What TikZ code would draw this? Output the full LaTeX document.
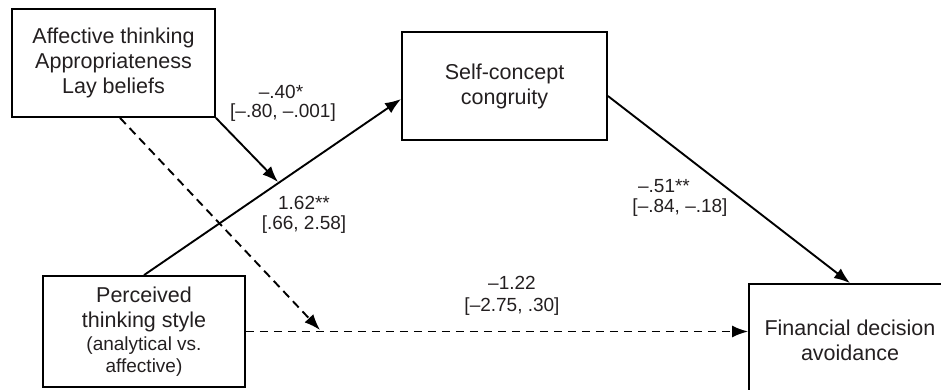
\documentclass[tikz,border=0pt]{standalone}
\usepackage{fontspec}
\setmainfont{Liberation Sans}
\usetikzlibrary{arrows.meta}
\definecolor{ink}{HTML}{231F20}
\begin{document}
\begin{tikzpicture}[x=1pt,y=-1pt,
  box/.style={draw=black, line width=1.8pt, align=center, text=ink,
    font=\fontsize{21.5}{25}\selectfont, inner sep=0pt, anchor=center},
  lbl/.style={text=ink, font=\fontsize{19}{22}\selectfont, inner sep=0pt},
  arr/.style={line width=1.9pt, -{Latex[length=16pt,width=12pt]}},
  dsh/.style={arr, dash pattern=on 8.5pt off 5.5pt}]
\useasboundingbox (0,0) rectangle (941,390);
\clip (0,0) rectangle (941,390);
\node[box, minimum width=203pt, minimum height=108pt] (A) at (113.5,63)
  {Affective thinking\\Appropriateness\\Lay beliefs};
\node[box, minimum width=205pt, minimum height=108pt] (B) at (504.5,86)
  {Self-concept\\congruity};
\node[box, minimum width=202pt, minimum height=111pt] (C) at (144,331.5)
  {Perceived\\thinking style\\[-2pt]{\fontsize{19}{22}\selectfont(analytical vs.}\\[-3pt]{\fontsize{19}{22}\selectfont affective)}};
\node[box, minimum width=202pt, minimum height=112pt] (D) at (850,340)
  {Financial decision\\avoidance};
\coordinate (M) at (278,182);
\coordinate (Q) at (320,330);
\draw[arr] (C.north) -- ([yshift=-13pt]B.west);
\draw[arr] (A.south east) -- (M);
\draw[dsh] ([xshift=6.5pt]A.south) -- (Q);
\draw[dsh] (C.east) -- (C.east -| D.west);
\draw[arr] ([yshift=-10pt]B.east) -- (D.north);
\node[lbl] (l1a) at (281,92) {–.40*};
\node[lbl] (l1b) at (283,113) {[–.80, –.001]};
\node[lbl] (l2a) at (304,203) {1.62**};
\node[lbl] (l2b) at (304,225) {[.66, 2.58]};
\node[lbl] (l3a) at (664,186) {–.51**};
\node[lbl] (l3b) at (680,208) {[–.84, –.18]};
\node[lbl] (l4a) at (512,283) {–1.22};
\node[lbl] (l4b) at (512,307) {[–2.75, .30]};
\end{tikzpicture}
\end{document}
